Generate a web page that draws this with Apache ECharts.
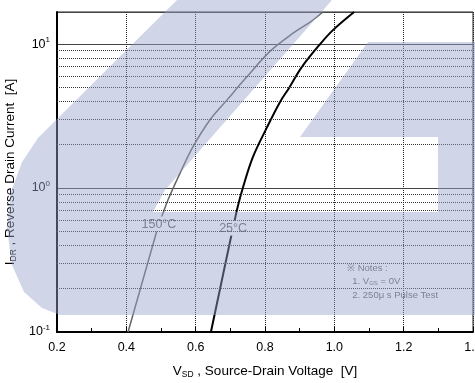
<!DOCTYPE html>
<html>
<head>
<meta charset="utf-8">
<script src="https://cdn.jsdelivr.net/npm/echarts@6/dist/echarts.min.js"></script>
<style>
  html, body { margin: 0; padding: 0; background: #fff; }
  #chart { width: 475px; height: 383px; }
</style>
</head>
<body>
<div id="chart"></div>
<script>
// 150°C curve
var vsd150 = [0.405, 0.483, 0.494, 0.506, 0.520, 0.555, 0.592, 0.641, 0.690, 0.742, 0.815, 0.881, 0.930, 0.967];
var idr150 = [0.1, 0.457, 0.562, 0.670, 0.826, 1.27, 1.93, 2.97, 4.08, 5.71, 8.93, 11.9, 14.2, 16.7];
// 25°C curve
var vsd25 = [0.644, 0.702, 0.708, 0.719, 0.737, 0.765, 0.806, 0.843, 0.869, 0.906, 0.959, 0.996, 1.057];
var idr25 = [0.1, 0.457, 0.527, 0.703, 1.02, 1.64, 2.65, 3.95, 4.94, 6.92, 10.0, 12.5, 16.7];
// index of the point that carries the curve label
var label150At = 2;
var label25At = 2;
// dotted minor grid lines of the log axis
var minorGrid = [0.2, 0.3, 0.4, 0.5, 0.6, 0.7, 0.8, 0.9, 2, 3, 4, 5, 6, 7, 8, 9];
var xTicks = { min: 0.2, max: 1.4, step: 0.2 };
var yRange = { min: 0.1, max: 16.7 };

var FONT = 'Liberation Sans, Arial, sans-serif';

function pairs(xs, ys, labelIdx, text) {
    return xs.map(function (x, i) {
        var item = { value: [x, ys[i]] };
        if (i === labelIdx) {
            item.label = {
                show: true,
                position: 'inside',
                formatter: text,
                color: '#666',
                fontSize: 12.5,
                fontFamily: FONT,
                backgroundColor: '#fff',
                padding: [1, 1]
            };
        }
        return item;
    });
}

var chart = echarts.init(document.getElementById('chart'));

var option = {
    animation: false,
    grid: {
        left: 57, right: 2, top: 12, bottom: 51,
        outerBoundsMode: 'none',
        containLabel: false,
        show: true, borderColor: '#222', borderWidth: 1
    },
    xAxis: {
        type: 'value',
        min: xTicks.min, max: xTicks.max, interval: xTicks.step,
        axisLine: { lineStyle: { color: '#000', width: 2 } },
        axisTick: { inside: true, length: 5, lineStyle: { color: '#000' } },
        minorTick: { show: true, splitNumber: 2, length: 4, lineStyle: { color: '#000' } },
        splitLine: { show: true, lineStyle: { color: '#222', type: 'dotted', width: 1 } },
        axisLabel: {
            color: '#000', fontSize: 12.5, fontFamily: FONT, margin: 9,
            hideOverlap: false,
            formatter: function (v) { return v.toFixed(1); }
        },
        name: '{t|V}{s|SD}{t| , Source-Drain Voltage  [V]}',
        nameLocation: 'middle',
        nameGap: 31,
        nameTextStyle: {
            rich: {
                t: { fontSize: 13.5, fontFamily: FONT, color: '#000', lineHeight: 16 },
                s: { fontSize: 8.5, fontFamily: FONT, color: '#000', lineHeight: 16, padding: [7, 0, 0, 0] }
            }
        }
    },
    yAxis: {
        type: 'log',
        logBase: 10,
        min: yRange.min, max: yRange.max,
        axisLine: { lineStyle: { color: '#000', width: 2 } },
        axisTick: { show: false },
        splitLine: { show: true, lineStyle: { color: '#444', width: 1 } },
        axisLabel: {
            margin: 7,
            showMaxLabel: false,
            formatter: function (v) {
                var p = Math.round(Math.log10(v));
                if (Math.abs(Math.log10(v) - p) > 1e-6) return '';
                return '{b|10}{e|' + p + '}';
            },
            rich: {
                b: { fontSize: 12.5, fontFamily: FONT, color: '#000' },
                e: { fontSize: 8, fontFamily: FONT, color: '#000', padding: [0, 0, 8, 0] }
            }
        },
        name: '{t|I}{s|DR}{t| , Reverse Drain Current  [A]}',
        nameLocation: 'middle',
        nameGap: 27,
        nameTextStyle: {
            rich: {
                t: { fontSize: 13.5, fontFamily: FONT, color: '#000', lineHeight: 16 },
                s: { fontSize: 8.5, fontFamily: FONT, color: '#000', lineHeight: 16, padding: [7, 0, 0, 0] }
            }
        }
    },
    series: [
        {
            type: 'line',
            silent: true,
            symbol: 'none',
            data: [],
            markLine: {
                silent: true,
                symbol: 'none',
                label: { show: false },
                lineStyle: { color: '#333', type: 'dotted', width: 1 },
                data: minorGrid.map(function (v) { return { yAxis: v }; })
            }
        },
        {
            name: '150',
            type: 'line',
            smooth: 0.35,
            showSymbol: true,
            symbol: 'circle',
            symbolSize: 0,
            lineStyle: { color: '#666', width: 1.5 },
            labelLayout: { hideOverlap: false },
            data: pairs(vsd150, idr150, label150At, '150°C'),
            z: 3
        },
        {
            name: '25',
            type: 'line',
            smooth: 0.35,
            showSymbol: true,
            symbol: 'circle',
            symbolSize: 0,
            lineStyle: { color: '#000', width: 2 },
            labelLayout: { hideOverlap: false },
            data: pairs(vsd25, idr25, label25At, '25°C'),
            z: 3
        }
    ],
    graphic: [
        {
            type: 'text',
            left: 347, top: 263,
            z: 50,
            style: {
                text: '{a|※ Notes :}\n{a|  1. V}{s|GS}{a| = 0V}\n{a|  2. 250μ s Pulse Test}',
                fill: '#666',
                rich: {
                    a: { fontSize: 9.5, fontFamily: FONT, fill: '#666', lineHeight: 13.5 },
                    s: { fontSize: 6, fontFamily: FONT, fill: '#666', lineHeight: 13.5, padding: [4, 0, 0, 0] }
                }
            }
        },
        {
            type: 'polygon',
            z: 100,
            silent: true,
            shape: {
                points: [
                    [177, 0], [332, 0], [165, 190], [153, 212], [438, 212], [438, 137],
                    [300, 137], [368, 42], [475, 42], [475, 315], [60, 315], [42, 308],
                    [24, 292], [12, 265], [7, 228], [11, 192], [22, 162], [38, 138], [60, 116]
                ]
            },
            style: { fill: 'rgba(150,162,205,0.45)' }
        }
    ]
};

chart.setOption(option);
window.addEventListener('resize', function () {
    chart.resize();
});
</script>
</body>
</html>
